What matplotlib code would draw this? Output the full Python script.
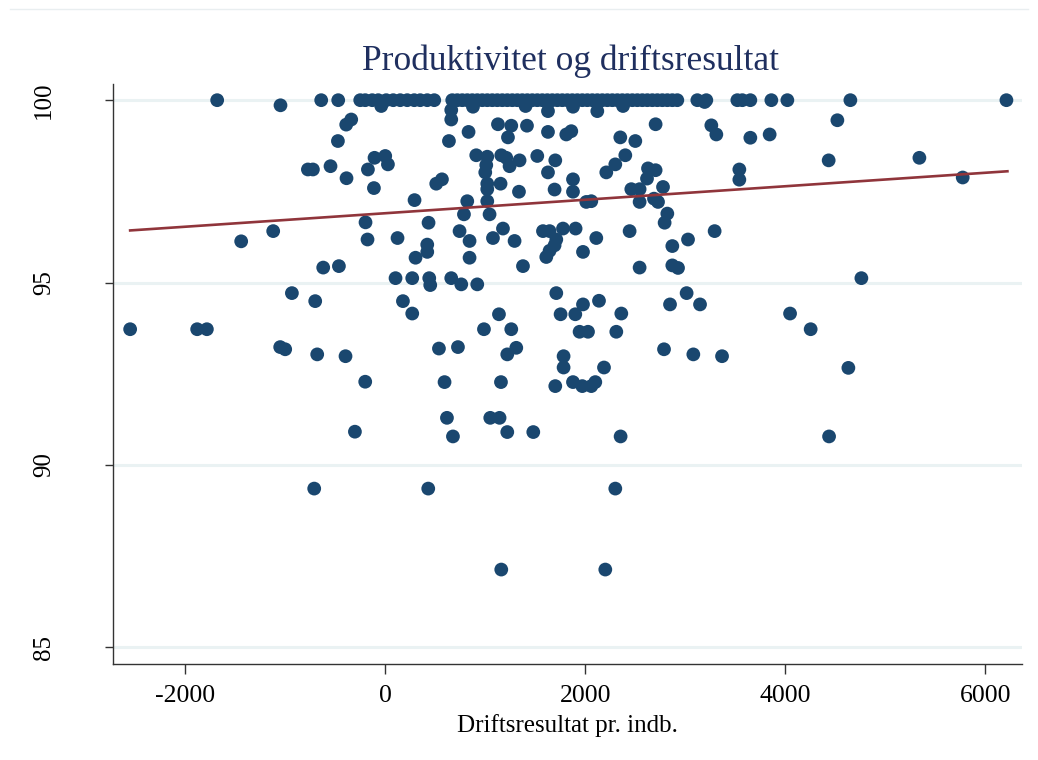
import matplotlib
matplotlib.use("Agg")
import matplotlib.pyplot as plt
import numpy as np
from matplotlib.lines import Line2D

# Driftsresultat pr. indb. for units sitting at productivity 100
top_x = [-1680, -640, -470, -250, -200, -130, -70, 10, 80, 150, 220, 290, 350, 420, 490,
         670, 720, 770, 820, 870, 920, 970, 1020, 1070, 1120, 1170, 1220, 1270, 1320,
         1370, 1420, 1470, 1520, 1570, 1620, 1670, 1720, 1770, 1820, 1870, 1920, 1970,
         2020, 2070, 2120, 2170, 2220, 2270, 2320, 2370, 2420, 2470, 2520, 2570, 2620,
         2670, 2720, 2770, 2820, 2870, 2920, 3120, 3210, 3520, 3570, 3650, 3860, 4020,
         4650, 6210]

# remaining units (driftsresultat, produktivitet)
drift = [-1047, -40, -340, -390, -473, -107, 0, 27, -773, -723, -547, -387, -173, -113,
         293, -197, -1120, -1440, -177, 123, 303, -620, -463, 103, 270,
         -933, -700, 177, 270, -2550, -1880, -1783, -1050, -1000, -680, -397, -200, -303,
         -710, 430, 2300, 1160, 2200,
         4520, 3260, 3310, 3650, 3843, 4433, 5340, 3540, 3540, 5773, 3293, 4760,
         4047, 4253, 3367, 4630, 4437,
         660, 660, 877, 1403, 1627, 1877, 2120, 2377, 3193,
         1127, 1260, 1417, 833, 637, 1227, 1627, 1810, 1860, 2703, 2350, 2500,
         910, 1020, 1160, 1210, 1343, 1520, 1700, 1010, 1000, 1243, 1627, 2300, 2210, 2400,
         2627, 2703, 2617, 510, 567, 1020, 1020, 1153, 1877, 1877, 1693, 1337,
         820, 1020, 2010, 2060, 2460, 2543, 2543, 2777, 2687, 2727,
         787, 1043, 2820, 2793, 433, 743, 1177, 1577, 1643, 1777, 1903, 2443,
         843, 1077, 1293, 1710, 1693, 1643, 1610, 2110, 2870, 3027,
         420, 420, 843, 1977, 1377, 2543, 2870, 2927,
         440, 660, 760, 920, 450,
         1710, 1977, 2137, 1753, 1900, 2360, 2847, 3013, 3147, 1137,
         987, 1260, 1943, 2027, 2310,
         537, 727, 1220, 1310, 1783, 1783, 2187, 2787, 3080,
         593, 1157, 1700, 1877, 1970, 2060, 2100,
         617, 1050, 1143, 677, 1220, 1480, 2353]
prod = [99.86, 99.84, 99.47, 99.33, 98.88, 98.42, 98.47, 98.24, 98.1, 98.1, 98.19, 97.86, 98.1, 97.59,
        97.26, 96.65, 96.41, 96.13, 96.18, 96.22, 95.68, 95.41, 95.45, 95.12, 95.12,
        94.71, 94.49, 94.49, 94.15, 93.72, 93.72, 93.72, 93.23, 93.17, 93.03, 92.98, 92.28, 90.91,
        89.35, 89.35, 89.35, 87.13, 87.13,
        99.45, 99.31, 99.06, 98.97, 99.06, 98.35, 98.42, 98.1, 97.82, 97.88, 96.41, 95.12,
        94.15, 93.72, 92.98, 92.66, 90.78,
        99.73, 99.47, 99.82, 99.84, 99.7, 99.82, 99.7, 99.84, 99.95,
        99.34, 99.3, 99.3, 99.13, 98.88, 98.98, 99.13, 99.06, 99.15, 99.34, 98.98, 98.88,
        98.49, 98.45, 98.49, 98.42, 98.35, 98.47, 98.35, 98.22, 98.02, 98.19, 98.02, 98.24, 98.02, 98.49,
        98.13, 98.08, 97.85, 97.71, 97.83, 97.71, 97.56, 97.71, 97.83, 97.49, 97.55, 97.49,
        97.23, 97.23, 97.21, 97.23, 97.56, 97.56, 97.21, 97.62, 97.3, 97.21,
        96.87, 96.87, 96.89, 96.64, 96.64, 96.41, 96.48, 96.41, 96.41, 96.48, 96.48, 96.41,
        96.14, 96.22, 96.14, 96.18, 96.02, 95.87, 95.7, 96.22, 96.0, 96.18,
        96.04, 95.84, 95.68, 95.84, 95.45, 95.41, 95.47, 95.4,
        95.12, 95.12, 94.95, 94.95, 94.93,
        94.71, 94.4, 94.5, 94.13, 94.13, 94.15, 94.4, 94.71, 94.4, 94.13,
        93.72, 93.72, 93.65, 93.65, 93.65,
        93.19, 93.23, 93.03, 93.21, 92.98, 92.67, 92.67, 93.17, 93.03,
        92.27, 92.27, 92.16, 92.27, 92.16, 92.16, 92.27,
        91.29, 91.29, 91.29, 90.78, 90.9, 90.9, 90.78]

# linear fit
fit_range = [-2550, 6220]
fit_intercept = 96.90
fit_slope = 0.000185

xs = np.array(top_x + drift, dtype=float)
ys = np.array([100.0] * len(top_x) + prod)

plt.rcParams['font.family'] = ['Liberation Serif', 'DejaVu Serif']
plt.rcParams['axes.unicode_minus'] = False

fig = plt.figure(figsize=(10.38, 7.6), dpi=100)
ax = fig.add_axes([0.109, 0.1263, 0.876, 0.763])

for yv in [85, 90, 95, 100]:
    ax.axhline(yv, color='#eaf2f3', lw=2.2, zorder=0)

ax.scatter(xs, ys, s=98, color='#1a476f', edgecolors='none', zorder=3)
fx = np.array(fit_range, dtype=float)
ax.plot(fx, fit_intercept + fit_slope * fx, color='#90353b', lw=1.9, zorder=4)

ax.set_xlim(-2720, 6370)
ax.set_ylim(84.54, 100.44)
ax.set_xticks([-2000, 0, 2000, 4000, 6000])
ax.set_yticks([85, 90, 95, 100])
ax.set_yticklabels(['85', '90', '95', '100'], rotation=90, va='center')
ax.tick_params(axis='x', direction='out', length=7, width=1, color='#333333',
               labelsize=18.5, pad=8)
ax.tick_params(axis='y', direction='out', length=6, width=1, color='#333333',
               labelsize=18, pad=36)
for s in ['top', 'right']:
    ax.spines[s].set_visible(False)
for s in ['left', 'bottom']:
    ax.spines[s].set_color('#333333')
    ax.spines[s].set_linewidth(1)

ax.set_xlabel('Driftsresultat pr. indb.', fontsize=18, labelpad=5)
fig.text(0.55, 0.92, 'Produktivitet og driftsresultat', ha='center', va='center',
         fontsize=25.5, color='#1f2f5f')

fig.add_artist(Line2D([0.01, 0.99], [0.988, 0.988], color='#e9eef0', lw=1))

fig.savefig('out.png', dpi=100, facecolor='white')
